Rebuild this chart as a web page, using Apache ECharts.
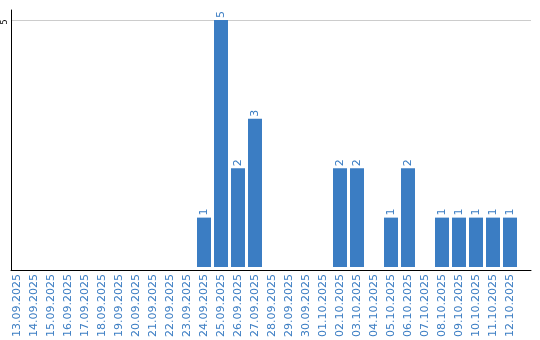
<!DOCTYPE html>
<html><head><meta charset="utf-8">
<script src="https://cdn.jsdelivr.net/npm/echarts@6/dist/echarts.min.js"></script>
<style>html,body{margin:0;padding:0;background:#fff}#c{width:540px;height:340px}</style>
</head><body><div id="c"></div>
<script>
const categories = ['13.09.2025','14.09.2025','15.09.2025','16.09.2025','17.09.2025','18.09.2025','19.09.2025','20.09.2025','21.09.2025','22.09.2025','23.09.2025','24.09.2025','25.09.2025','26.09.2025','27.09.2025','28.09.2025','29.09.2025','30.09.2025','01.10.2025','02.10.2025','03.10.2025','04.10.2025','05.10.2025','06.10.2025','07.10.2025','08.10.2025','09.10.2025','10.10.2025','11.10.2025','12.10.2025'];
const values = [0,0,0,0,0,0,0,0,0,0,0,1,5,2,3,0,0,0,0,2,2,0,1,2,0,1,1,1,1,1];
const yTickLabels = [5];

const blue = '#3b7dc3';
const font = 'DejaVu Sans, Verdana, sans-serif';
const chart = echarts.init(document.getElementById('c'));
chart.setOption({
  animation: false,
  grid: [
    {left: 8.5, width: 510, top: 20, height: 250},
    {left: 11, width: 520, top: 20, height: 250},
    {left: 11, width: 10, top: 10, height: 260}
  ],
  xAxis: [
    {gridIndex: 0, type: 'category', data: categories,
     axisLine: {show: false}, axisTick: {show: false},
     axisLabel: {rotate: 90, interval: 0, margin: 7, color: blue, fontSize: 11, fontFamily: font}},
    {gridIndex: 1, type: 'value', min: 0, max: 1,
     axisLine: {show: true, onZero: false, lineStyle: {color: '#000', width: 1}},
     axisTick: {show: false}, axisLabel: {show: false}, splitLine: {show: false}},
    {gridIndex: 2, type: 'value', min: 0, max: 1, show: false}
  ],
  yAxis: [
    {gridIndex: 0, type: 'value', min: 0, max: 5, show: false},
    {gridIndex: 1, type: 'value', min: 0, max: 5, interval: 5,
     axisLine: {show: false}, axisTick: {show: false},
     splitLine: {show: true, lineStyle: {color: '#cccccc', width: 1}},
     axisLabel: {rotate: 90, margin: 2, fontSize: 8, color: '#000', fontFamily: font,
       align: 'center', verticalAlign: 'bottom', padding: [0, 4, 0, 0],
       formatter: v => yTickLabels.indexOf(v) >= 0 ? String(v) : ''}},
    {gridIndex: 2, type: 'value', min: 0, max: 1,
     axisLine: {show: true, onZero: false, lineStyle: {color: '#000', width: 1}},
     axisTick: {show: false}, axisLabel: {show: false}, splitLine: {show: false}}
  ],
  series: [{
    type: 'bar', xAxisIndex: 0, yAxisIndex: 0, data: values, barWidth: 14,
    itemStyle: {color: blue}, z: 3,
    label: {show: true, position: 'top', rotate: 90, distance: 2, align: 'left', verticalAlign: 'middle',
      color: blue, fontSize: 11, fontFamily: font,
      formatter: p => p.value ? String(p.value) : ''}
  }]
});
</script></body></html>
